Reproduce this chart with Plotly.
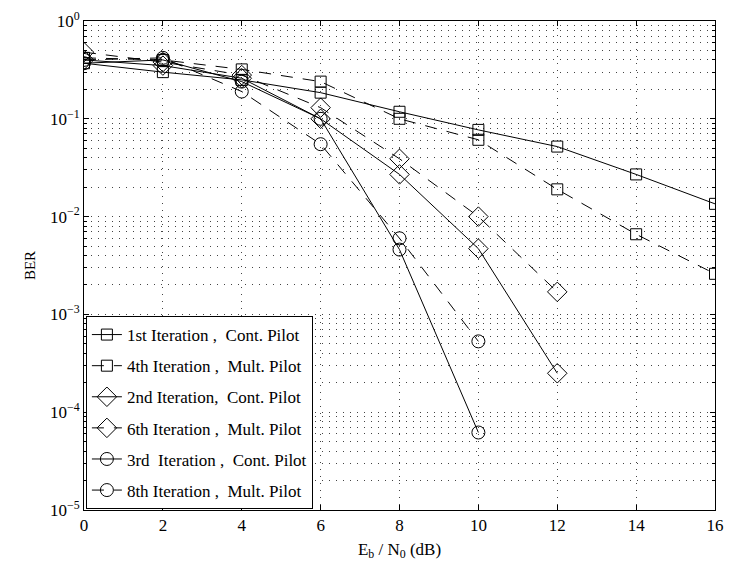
import plotly.graph_objects as go

x_all = [0, 2, 4, 6, 8, 10, 12, 14, 16]
x_diam = [0, 2, 4, 6, 8, 10, 12]
x_circ = [0, 2, 4, 6, 8, 10]

ber_1st_cont = [0.37, 0.30, 0.25, 0.185, 0.118, 0.077, 0.052, 0.027, 0.0135]
ber_4th_mult = [0.42, 0.40, 0.32, 0.24, 0.100, 0.061, 0.019, 0.0066, 0.0026]
ber_2nd_cont = [0.40, 0.35, 0.26, 0.100, 0.027, 0.0047, 0.00025]
ber_6th_mult = [0.48, 0.38, 0.28, 0.130, 0.039, 0.0100, 0.0017]
ber_3rd_cont = [0.37, 0.40, 0.24, 0.100, 0.0046, 0.000062]
ber_8th_mult = [0.40, 0.42, 0.19, 0.055, 0.0060, 0.00053]

names = [
    "1st Iteration ,  Cont. Pilot",
    "4th Iteration ,  Mult. Pilot",
    "2nd Iteration,  Cont. Pilot",
    "6th Iteration ,  Mult. Pilot",
    "3rd  Iteration ,  Cont. Pilot",
    "8th Iteration ,  Mult. Pilot",
]

y_tickvals = [1, 1e-1, 1e-2, 1e-3, 1e-4, 1e-5]
y_ticktext = ["10<sup>0</sup>", "10<sup>−1</sup>", "10<sup>−2</sup>",
              "10<sup>−3</sup>", "10<sup>−4</sup>", "10<sup>−5</sup>"]
x_tickvals = [0, 2, 4, 6, 8, 10, 12, 14, 16]

FONT = "Liberation Serif"
DASH = "12px,10px"
GRID_DASH = "1px,6px"

series = [
    (x_all, ber_1st_cont, "square-open", 11, "solid"),
    (x_all, ber_4th_mult, "square-open", 11, DASH),
    (x_diam, ber_2nd_cont, "diamond-open", 15, "solid"),
    (x_diam, ber_6th_mult, "diamond-open", 15, DASH),
    (x_circ, ber_3rd_cont, "circle-open", 13, "solid"),
    (x_circ, ber_8th_mult, "circle-open", 13, DASH),
]

fig = go.Figure()
for i, (xs, ys, sym, sz, dash) in enumerate(series):
    fig.add_trace(go.Scatter(
        x=xs, y=ys, mode="lines+markers", name=names[i],
        legendgroup=f"g{i}",
        line=dict(color="black", width=1, dash=dash),
        marker=dict(symbol=sym, size=sz, color="black", line=dict(width=1, color="black")),
    ))

fig.update_layout(
    width=733, height=564,
    margin=dict(l=84, r=9, t=19, b=53),
    paper_bgcolor="white", plot_bgcolor="white",
    font=dict(family=FONT, size=15, color="black"),
    legend=dict(
        x=0.003, y=0.002, xanchor="left", yanchor="bottom",
        bgcolor="white", bordercolor="black", borderwidth=1,
        font=dict(family=FONT, size=17, color="black"),
        tracegroupgap=6,
        traceorder="grouped",
        entrywidth=215,
    ),
    xaxis=dict(
        range=[0, 16], tickvals=x_tickvals,
        ticks="inside", ticklen=5, tickcolor="black",
        showline=True, linecolor="black", linewidth=1, mirror="ticks",
        showgrid=True, gridcolor="#444", griddash=GRID_DASH, gridwidth=1,
        zeroline=False,
        title=dict(text="E<sub>b</sub> / N<sub>0</sub> (dB)", standoff=8,
                   font=dict(family=FONT, size=17)),
        tickfont=dict(family=FONT, size=17),
    ),
    yaxis=dict(
        type="log", range=[-5, 0],
        tickvals=y_tickvals, ticktext=y_ticktext,
        ticks="inside", ticklen=5, tickcolor="black",
        showline=True, linecolor="black", linewidth=1, mirror="ticks",
        showgrid=True, gridcolor="#444", griddash=GRID_DASH, gridwidth=1,
        zeroline=False,
        minor=dict(dtick="D1", ticks="inside", ticklen=3, tickcolor="black",
                   showgrid=True, gridcolor="#444", griddash=GRID_DASH, gridwidth=1),
        title=dict(text="BER", standoff=10, font=dict(family=FONT, size=15)),
        tickfont=dict(family=FONT, size=17),
    ),
)

fig.write_html("out.html")
